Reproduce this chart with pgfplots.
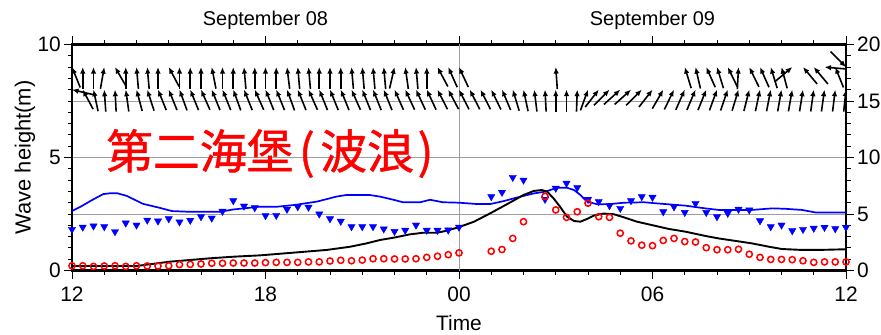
\documentclass[border=0pt]{standalone}
\usepackage{fontspec}
\setmainfont{Liberation Sans}
\newfontfamily\cjk[FakeBold=0.9]{Noto Sans CJK JP}
\usepackage{pgfplots}
\usepackage{pgfplotstable}
\pgfplotsset{compat=1.18}
\usetikzlibrary{arrows.meta}

% observed (red circles)
\pgfplotstableread{
t v
0 0.21
20 0.21
40 0.18
60 0.20
80 0.21
100 0.18
120 0.21
140 0.20
160 0.20
180 0.21
200 0.26
220 0.27
240 0.29
260 0.32
280 0.32
300 0.33
320 0.33
340 0.33
360 0.35
380 0.36
400 0.36
420 0.36
440 0.38
460 0.38
480 0.42
500 0.45
520 0.43
540 0.46
560 0.52
580 0.52
600 0.51
620 0.51
640 0.52
660 0.58
680 0.63
700 0.70
720 0.78
780 0.85
800 0.93
820 1.42
840 2.16
880 3.28
900 2.68
920 2.35
940 2.60
960 2.98
980 2.38
1000 2.35
1020 1.65
1040 1.31
1060 1.12
1080 1.10
1100 1.33
1120 1.42
1140 1.28
1160 1.26
1180 1.01
1200 0.92
1220 0.92
1240 0.94
1260 0.72
1280 0.58
1300 0.49
1320 0.49
1340 0.48
1360 0.43
1380 0.36
1400 0.38
1420 0.38
1440 0.38
}\obsred

% observed (blue triangles)
\pgfplotstableread{
t v
0 1.82
20 1.92
40 1.97
60 1.94
80 1.72
100 2.10
120 2.01
140 2.23
160 2.19
180 2.29
200 2.15
220 2.22
240 2.38
260 2.32
280 2.62
300 3.09
320 2.85
340 2.78
360 2.43
380 2.44
400 2.71
420 2.82
440 2.80
460 2.50
480 2.29
500 2.18
520 1.94
540 1.94
560 1.94
580 1.84
600 1.73
620 1.78
640 2.01
660 1.78
680 1.78
700 1.79
720 1.92
780 3.27
800 3.46
820 4.12
840 4.00
880 3.15
900 3.64
920 3.86
940 3.67
960 3.15
980 3.05
1000 2.87
1020 2.75
1040 3.09
1060 3.27
1080 3.24
1100 2.60
1120 2.82
1140 2.57
1160 2.97
1180 2.57
1200 2.38
1220 2.53
1240 2.71
1260 2.68
1280 2.20
1300 1.94
1320 2.01
1340 1.76
1360 1.82
1380 1.87
1400 1.91
1420 1.85
1440 1.91
}\obsblue

% blue line
\pgfplotstableread{
t v
0 2.63
18 2.85
36 3.10
58 3.38
72 3.42
84 3.42
102 3.30
132 2.95
162 2.78
186 2.63
216 2.60
276 2.60
300 2.70
348 2.82
381 2.82
414 2.90
456 3.05
492 3.27
510 3.34
554 3.34
573 3.27
598 3.13
616 3.02
648 3.02
666 3.13
690 3.02
720 3.00
754 2.94
778 2.94
803 3.07
828 3.23
859 3.41
881 3.49
902 3.66
921 3.66
934 3.56
946 3.34
958 3.05
977 2.93
1001 2.94
1027 3.00
1064 3.02
1088 2.97
1104 2.94
1141 2.87
1178 2.75
1203 2.68
1265 2.68
1303 2.75
1327 2.73
1358 2.68
1383 2.57
1440 2.57
}\lineblue

% black line
\pgfplotstableread{
t v
0 0.20
120 0.20
182 0.39
257 0.54
300 0.61
350 0.67
412 0.79
474 0.91
517 1.05
548 1.20
573 1.35
598 1.45
629 1.60
653 1.67
679 1.67
697 1.76
720 1.92
748 2.16
778 2.53
809 2.93
840 3.34
859 3.52
874 3.56
884 3.49
896 3.19
908 2.82
921 2.38
934 2.19
946 2.16
958 2.28
971 2.43
989 2.52
1008 2.49
1027 2.35
1051 2.16
1088 1.96
1110 1.84
1141 1.72
1178 1.53
1203 1.42
1234 1.31
1265 1.20
1297 1.05
1321 0.95
1358 0.91
1390 0.91
1440 0.94
}\lineblack

% lower row of direction arrows (head at y=8, direction d in degrees, clockwise from up)
\pgfplotstableread{
t y d
0 8 -77
20 8 -28
40 8 -12
60 8 -4
80 8 -3
100 8 -8
120 8 -15
140 8 -18
160 8 -22
180 8 -22
200 8 -20
220 8 -22
240 8 -24
260 8 -22
280 8 -22
300 8 -20
320 8 -22
340 8 -24
360 8 -22
380 8 -22
400 8 -20
420 8 -22
440 8 -24
460 8 -22
480 8 -22
500 8 -22
520 8 -24
540 8 -22
560 8 -22
580 8 -22
600 8 -24
620 8 -25
640 8 -25
660 8 -25
680 8 -27
700 8 -28
720 8 -27
740 8 -27
760 8 -27
780 8 -26
800 8 -23
820 8 -17
840 8 -12
860 8 -7
880 8 -3
900 8 0
920 8 0
940 8 2
960 8 20
980 8 38
1000 8 45
1020 8 48
1040 8 48
1060 8 45
1080 8 38
1100 8 30
1120 8 26
1140 8 24
1160 8 23
1180 8 22
1200 8 20
1220 8 19
1240 8 17
1260 8 14
1280 8 12
1300 8 11
1320 8 10
1340 8 10
1360 8 9
1380 8 8
1400 8 8
1420 8 7
1440 8 6
}\arrlow

% upper row of direction arrows (head at y=9)
\pgfplotstableread{
t y d
0 9 -22
20 9 0
40 9 0
60 9 10
80 9 -30
100 9 0
120 9 -5
140 9 -5
160 9 0
180 9 -28
200 9 0
220 9 0
240 9 0
260 9 -11
280 9 0
300 9 0
320 9 -5
340 9 0
360 9 0
380 9 0
400 9 -7
420 9 -5
440 9 -5
460 9 0
480 9 0
500 9 0
520 9 -5
540 9 -5
560 9 -5
580 9 -5
600 9 13
620 9 -8
640 9 -5
660 9 0
680 9 -28
700 9 -24
720 9 -25
900 9 -4
1140 9 -17
1160 9 -13
1180 9 -24
1200 9 -17
1220 9 -26
1240 9 3
1260 9 -26
1280 9 -24
1300 9 -17
1320 9 -15
1340 9 50
1360 9 -40
1380 9 -40
1400 9 -85
1420 9 -22
1440 9 135
}\arrup

\begin{document}
\begin{tikzpicture}
\pgfplotsset{
  common/.style={
    at={(0,0)}, anchor=south west, scale only axis,
    width=774bp, height=226bp, xmin=0, xmax=1440,
    tick align=outside,
    major tick length=8bp, minor tick length=4.5bp,
    tick style={black, line width=0.9bp},
    /pgf/number format/assume math mode=true,
    tick label style={font=\fontsize{21}{24}\selectfont},
  }
}
% right axis (0-20 scale) with horizontal grid
\begin{axis}[common,
  ymin=0, ymax=20,
  hide x axis,
  axis y line*=right,
  y axis line style={line width=2.5bp, -},
  ytick={0,5,10,15,20}, minor y tick num=4,
  ymajorgrids, grid style={gray!75, line width=0.8bp},
  yticklabel style={anchor=west, inner sep=0pt, xshift=3bp},
]
\addplot[draw=none] coordinates {(0,0)};
\end{axis}
% main axis
\begin{axis}[common,
  ymin=0, ymax=10,
  axis line style={line width=2.5bp},
  xtick={0,360,720,1080,1440}, xticklabels={12,18,00,06,12},
  minor x tick num=5,
  ytick={0,5,10}, minor y tick num=9, ytick pos=left,
  xticklabel style={anchor=north, inner sep=0pt, yshift=-8bp},
  yticklabel style={anchor=east, inner sep=0pt, xshift=-3bp},
]
\draw[gray!75, line width=0.8bp] (axis cs:720,0) -- (axis cs:720,10);
\addplot[blue, line width=1.7bp] table[x=t, y=v] {\lineblue};
\addplot[black, line width=1.9bp] table[x=t, y=v] {\lineblack};
\addplot[only marks, mark=triangle*, mark size=4.2bp,
  mark options={rotate=180, fill=blue, draw=blue}] table[x=t, y=v] {\obsblue};
\addplot[only marks, mark=o, mark size=3.1bp,
  mark options={draw=red, line width=1.5bp}] table[x=t, y=v] {\obsred};
\addplot[black, line width=1.6bp, arrows={{Latex[length=6.5bp,width=5.5bp]}-},
  quiver={u={-40.9*sin(\thisrow{d})}, v={-0.973*cos(\thisrow{d})}}]
  table[x=t, y=y] {\arrlow};
\addplot[black, line width=1.6bp, arrows={{Latex[length=6.5bp,width=5.5bp]}-},
  quiver={u={-40.9*sin(\thisrow{d})}, v={-0.973*cos(\thisrow{d})}}]
  table[x=t, y=y] {\arrup};
\end{axis}
\node[anchor=west, inner sep=0pt, text=red, font=\cjk\fontsize{47}{50}\selectfont]
  at (34bp,117bp) {第二海堡\makebox[0.57em]{(}波浪\makebox[0.5em]{)}};
\node[font=\fontsize{20}{24}\selectfont] at (193.5bp,250.5bp) {September 08};
\node[font=\fontsize{20}{24}\selectfont] at (580.5bp,250.5bp) {September 09};
\node[font=\fontsize{21}{24}\selectfont, inner sep=0pt] at (387bp,-53bp) {Time};
\node[rotate=90, font=\fontsize{22}{24}\selectfont] at (-47bp,113bp) {Wave height(m)};
\pgfresetboundingbox
\path[use as bounding box] (-72bp,-64.5bp) rectangle (809bp,270.5bp);
\end{tikzpicture}
\end{document}
